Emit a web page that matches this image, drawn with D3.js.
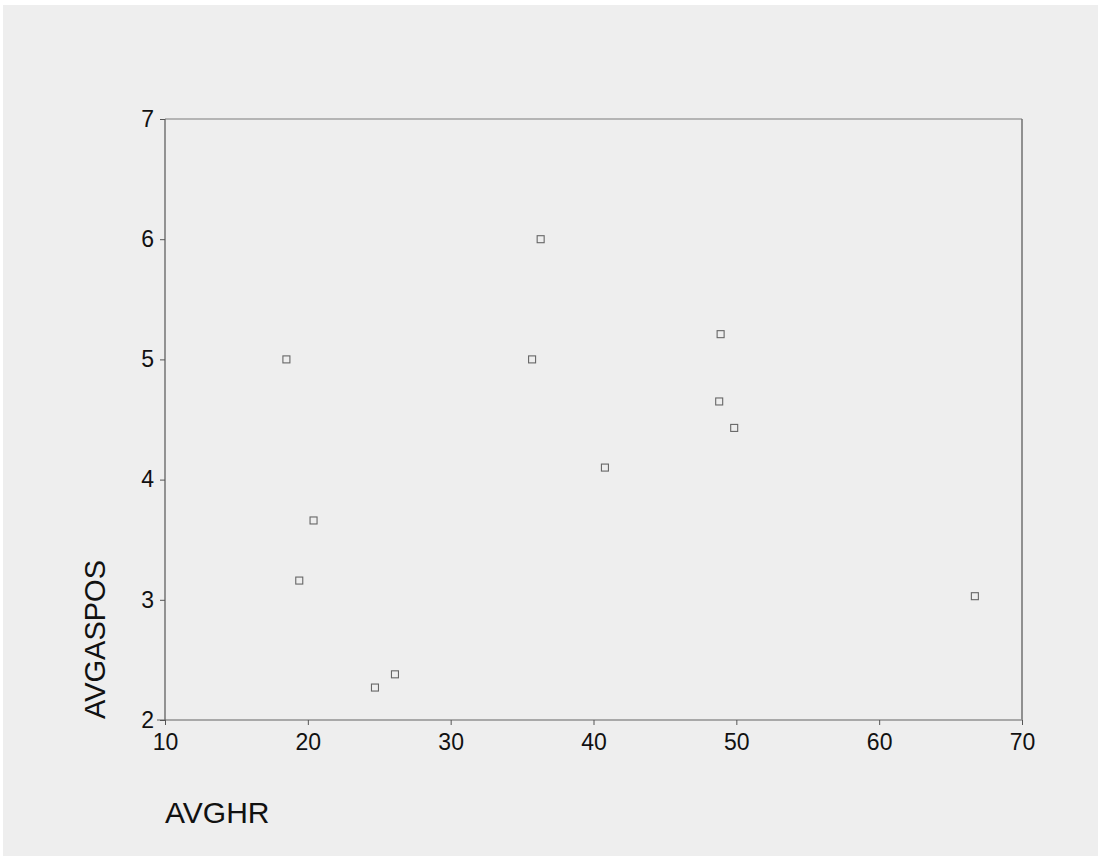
<!DOCTYPE html>
<html>
<head>
<meta charset="utf-8">
<script src="https://cdn.jsdelivr.net/npm/d3@7"></script>
<style>
  body { margin: 0; background: #fff; }
  svg { display: block; }
</style>
</head>
<body>
<div id="chart"></div>
<script>
// values
let avghr    = [18.5, 20.4, 19.4, 24.7, 26.1, 35.7, 36.3, 40.8, 48.9, 48.8, 49.85, 66.7];
let avgaspos = [5.0, 3.66, 3.16, 2.27, 2.38, 5.0, 6.0, 4.1, 5.21, 4.65, 4.43, 3.03];
let xTicks = [10, 20, 30, 40, 50, 60, 70];
let yTicks = [2, 3, 4, 5, 6, 7];

let points = avghr.map((d, i) => ({x: d, y: avgaspos[i]}));

let W = 1098, H = 856;
let margin = {top: 119, right: 1098 - 1022, bottom: 856 - 720, left: 165};
let width = W - margin.left - margin.right,
    height = H - margin.top - margin.bottom;

let svg = d3.select("#chart").append("svg")
  .attr("width", W)
  .attr("height", H);

// scanned paper background
svg.append("rect")
  .attr("x", 3).attr("y", 5)
  .attr("width", W - 3).attr("height", H - 5)
  .attr("fill", "#eeeeee");

let g = svg.append("g")
  .attr("transform", "translate(" + margin.left + "," + margin.top + ")");

let x = d3.scaleLinear().domain([10, 70]).range([0, width]);
let y = d3.scaleLinear().domain([2, 7]).range([height, 0]);

// frame top / right
g.append("line")
  .attr("x1", 0).attr("x2", width).attr("y1", 0).attr("y2", 0)
  .attr("stroke", "#a0a0a0").attr("stroke-width", 1.5);
g.append("line")
  .attr("x1", width).attr("x2", width).attr("y1", 0).attr("y2", height)
  .attr("stroke", "#707070").attr("stroke-width", 1.5);

let fmt = d3.format("d");

// X axis
let xAxis = g.append("g")
  .attr("transform", "translate(0," + height + ")")
  .call(d3.axisBottom(x).tickValues(xTicks).tickFormat(fmt).tickSize(5).tickPadding(9));
xAxis.select(".domain").attr("stroke", "#909090").attr("stroke-width", 1.5)
  .attr("d", "M-8,0H" + width);
xAxis.selectAll(".tick line").attr("stroke", "#555");
xAxis.selectAll("text")
  .attr("fill", "#111")
  .style("font-family", "Liberation Sans, Arial, sans-serif")
  .style("font-size", "23px");

// Y axis
let yAxis = g.append("g")
  .call(d3.axisLeft(y).tickValues(yTicks).tickFormat(fmt).tickSize(5).tickPadding(6));
yAxis.select(".domain").attr("stroke", "#606060").attr("stroke-width", 1.3)
  .attr("d", "M0," + height + "V0");
yAxis.selectAll(".tick line").attr("stroke", "#555");
yAxis.selectAll("text")
  .attr("fill", "#111")
  .style("font-family", "Liberation Sans, Arial, sans-serif")
  .style("font-size", "23px");

// points: small open squares
let s = 7;
g.append("g")
  .selectAll("rect")
  .data(points)
  .enter()
  .append("rect")
    .attr("x", d => x(d.x) - s / 2)
    .attr("y", d => y(d.y) - s / 2)
    .attr("width", s)
    .attr("height", s)
    .attr("fill", "none")
    .attr("stroke", "#666")
    .attr("stroke-width", 1.1);

// axis titles
svg.append("text")
  .attr("x", 165).attr("y", 823)
  .attr("fill", "#111")
  .style("font-family", "Liberation Sans, Arial, sans-serif")
  .style("font-size", "30px")
  .text("AVGHR");

svg.append("text")
  .attr("transform", "translate(105,719) rotate(-90)")
  .attr("fill", "#111")
  .style("font-family", "Liberation Sans, Arial, sans-serif")
  .style("font-size", "29px")
  .text("AVGASPOS");
</script>
</body>
</html>
